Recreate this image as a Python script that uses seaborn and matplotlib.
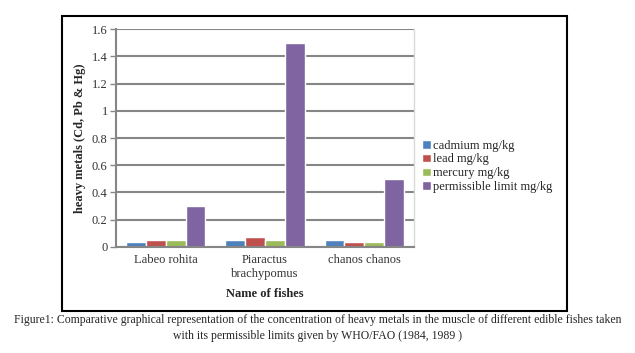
import pandas as pd
import numpy as np
import seaborn as sns
import matplotlib.pyplot as plt
from matplotlib.patches import Rectangle

fishes = ["Labeo rohita", "Piaractus\nbrachypomus", "chanos chanos"]
metals = ["cadmium mg/kg", "lead mg/kg", "mercury mg/kg", "permissible limit mg/kg"]
cadmium = [0.04, 0.05, 0.05]
lead = [0.05, 0.07, 0.04]
mercury = [0.05, 0.05, 0.04]
limit = [0.30, 1.50, 0.50]
yticks = [0, 0.2, 0.4, 0.6, 0.8, 1, 1.2, 1.4, 1.6]
ytick_labels = ["0", "0.2", "0.4", "0.6", "0.8", "1", "1.2", "1.4", "1.6"]
colors = ["#4F81BD", "#C0504D", "#9BBB59", "#8064A2"]

df = pd.DataFrame({"fish": fishes * 4,
                   "metal": np.repeat(metals, 3),
                   "value": cadmium + lead + mercury + limit})

sns.set_style("white")
plt.rcParams["font.family"] = ["Liberation Serif", "DejaVu Serif"]

fig = plt.figure(figsize=(6.35, 3.53), dpi=100)
ax = fig.add_axes([0.1827, 0.3003, 0.4693, 0.6175])

sns.barplot(data=df, x="fish", y="value", hue="metal", palette=colors,
            width=0.8, gap=0, saturation=1, ax=ax, legend=True)

ax.set_ylim(0, 1.6)
ax.set_yticks(yticks)
ax.set_yticklabels(ytick_labels, fontsize=9, color="#333333")
ax.tick_params(axis="y", length=4, width=1, color="#868686", direction="out", pad=2, left=True)
ax.tick_params(axis="x", length=0, pad=5, labelsize=9, labelcolor="#333333")
ax.grid(axis="y", color="#868686", linewidth=1.5)
ax.set_axisbelow(True)
for s in ["left", "bottom"]:
    ax.spines[s].set_color("#868686")
    ax.spines[s].set_linewidth(1.5)
ax.spines["top"].set_visible(False)
ax.spines["right"].set_color("#D9D9D9")
ax.spines["right"].set_linewidth(1)
ax.set_xlabel("Name of fishes", fontsize=9, fontweight="bold", labelpad=6)
ax.set_ylabel("heavy metals (Cd, Pb & Hg)", fontsize=9, fontweight="bold", labelpad=4)

leg = ax.legend(loc="center left", bbox_to_anchor=(1.01, 0.37), frameon=False,
                fontsize=9, handlelength=0.7, handleheight=0.7, handletextpad=0.2,
                labelspacing=0.15, borderaxespad=0)

fig.patches.append(Rectangle((62 / 635, 1 - 311 / 353), (567 - 62) / 635, (311 - 16) / 353,
                             transform=fig.transFigure, fill=False, edgecolor="black",
                             linewidth=1.5))

fig.text(0.5, 1 - 320 / 353,
         "Figure1: Comparative graphical representation of the concentration of heavy metals in the muscle of different edible fishes taken",
         ha="center", va="center", fontsize=8.5, family="Liberation Serif")
fig.text(0.5, 1 - 336 / 353, "with its permissible limits given by WHO/FAO (1984, 1989 )",
         ha="center", va="center", fontsize=8.5, family="Liberation Serif")

fig.savefig("out.png", dpi=100)
